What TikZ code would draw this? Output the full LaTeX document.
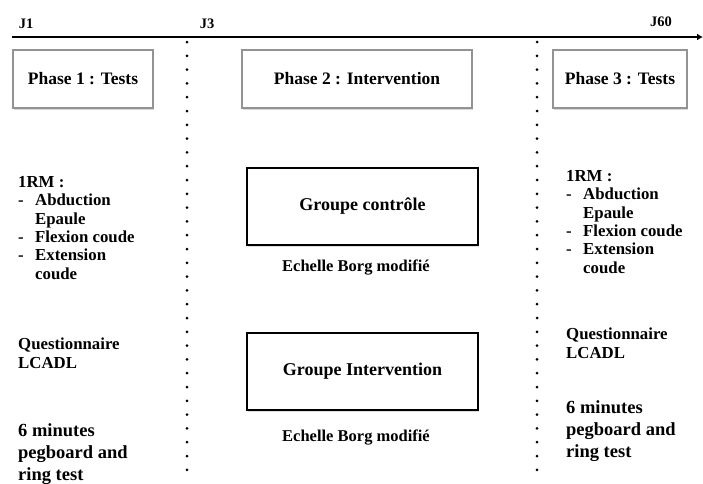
\documentclass[tikz,border=0pt]{standalone}
\usepackage{fontspec}
\setmainfont{Liberation Serif}
\usetikzlibrary{arrows.meta,shadows}

\newcommand{\listdash}{\makebox[17pt][l]{-}}
\newcommand{\listindent}{\hspace*{17pt}}

\tikzset{
  phasebox/.style={draw=gray!85,line width=2pt,fill=white,minimum height=58pt,
    font=\fontsize{17.5}{20}\selectfont\bfseries,
    drop shadow={opacity=0.3,shadow xshift=1pt,shadow yshift=-1.5pt}},
  groupbox/.style={draw=black,line width=2pt,fill=white,minimum width=231pt,minimum height=77pt,
    font=\fontsize{18}{20}\selectfont\bfseries,
    drop shadow={opacity=0.25,shadow xshift=1pt,shadow yshift=-1.5pt}},
  daylabel/.style={font=\fontsize{14.5}{16}\selectfont\bfseries,inner sep=0pt},
  testlist/.style={anchor=north west,align=left,inner sep=0pt,
    font=\fontsize{16.8}{18.4}\selectfont\bfseries},
  bigtest/.style={anchor=north west,align=left,inner sep=0pt,
    font=\fontsize{18.5}{22}\selectfont\bfseries},
  borglabel/.style={inner sep=0pt,font=\fontsize{16.5}{18}\selectfont\bfseries},
  dotline/.style={line width=3pt,line cap=round,dash pattern=on 0pt off 13.8pt}
}

\begin{document}
\begin{tikzpicture}
	\begin{scope}[x={1pt},y={-1pt}]
		\useasboundingbox (0,0) rectangle (703,483);

		% time axis
		\coordinate (tstart) at (12,37);
		\coordinate (tend) at (703,37);
		\draw[-{Latex[length=6pt,width=7pt]},line width=2.8pt] (tstart)--(tend);

		\node[daylabel] (j1) at (26,24) {J1};
		\node[daylabel] (j3) at (207,24) {J3};
		\node[daylabel] (j60) at (661,22) {J60};

		% dotted separators
		\coordinate (sepAtop) at (187,42);
		\coordinate (sepAbot) at (187,478);
		\coordinate (sepBtop) at (537,42);
		\coordinate (sepBbot) at (537,480);
		\draw[dotline] (sepAtop)--(sepAbot);
		\draw[dotline] (sepBtop)--(sepBbot);

		% phases
		\node[phasebox,minimum width=140pt] (phase1) at (83,79) {Phase 1 : Tests};
		\node[phasebox,minimum width=230pt] (phase2) at (357,79) {Phase 2 : Intervention};
		\node[phasebox,minimum width=134pt] (phase3) at (620,79) {Phase 3 : Tests};

		% groups
		\node[groupbox] (control) at (362.5,206.5) {Groupe contrôle};
		\node[groupbox] (interv) at (362.5,371.5) {Groupe Intervention};
		\node[borglabel] (borg1) at (356,268) {Echelle Borg modifié};
		\node[borglabel] (borg2) at (356,438) {Echelle Borg modifié};

		% tests before
		\node[testlist] (rmpre) at (18,176) {1RM :\\\listdash Abduction\\\listindent Epaule\\\listdash Flexion coude\\\listdash Extension\\\listindent coude};
		\node[testlist] (lcadlpre) at (18,338) {Questionnaire\\LCADL};
		\node[bigtest] (pegpre) at (18,423) {6 minutes\\pegboard and\\ring test};

		% tests after
		\node[testlist] (rmpost) at (566,170) {1RM :\\\listdash Abduction\\\listindent Epaule\\\listdash Flexion coude\\\listdash Extension\\\listindent coude};
		\node[testlist] (lcadlpost) at (566,328) {Questionnaire\\LCADL};
		\node[bigtest] (pegpost) at (566,400) {6 minutes\\pegboard and\\ring test};
	\end{scope}
\end{tikzpicture}
\end{document}
